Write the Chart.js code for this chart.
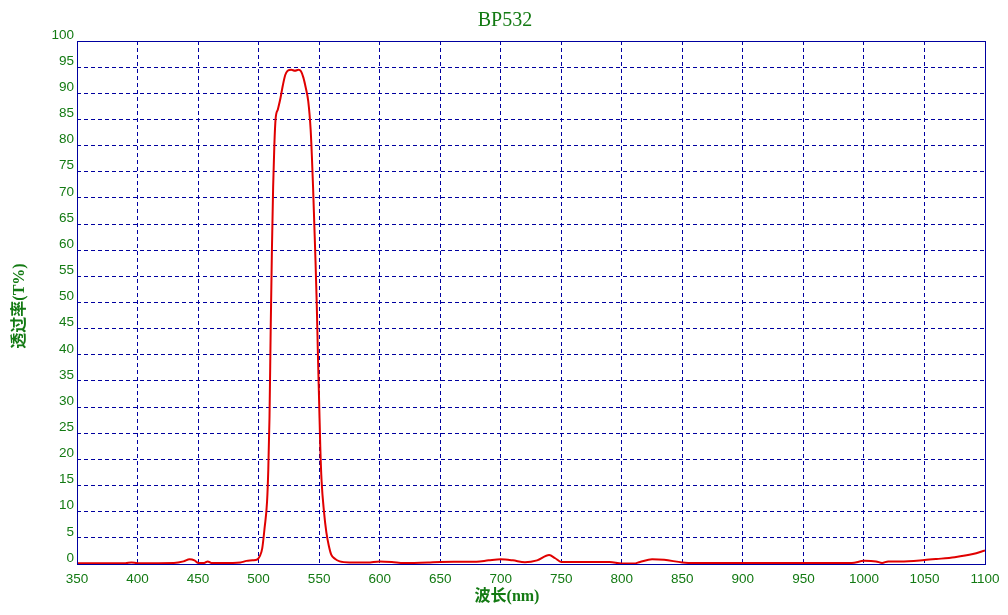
<!DOCTYPE html>
<html>
<head>
<meta charset="utf-8">
<script src="https://cdn.jsdelivr.net/npm/chart.js@4/dist/chart.umd.min.js"></script>
<style>
	html, body { margin:0; padding:0; background:#fff; }
	#wrap { width:1008px; height:615px; position:relative; }
</style>
</head>
<body>
<div id="wrap"><canvas id="bpChart" width="1008" height="615"></canvas></div>
<script>

// wavelength (nm) / transmission (T%)
var wavelength = [350, 380, 390, 395, 400, 430, 438, 443, 447, 450, 455, 458, 461, 470, 485, 490, 495, 499,
	501, 503, 505, 507, 508, 509, 510, 511, 512, 513, 514, 516, 518, 520, 522, 524, 527, 530, 533, 535, 537,
	539, 541, 543, 544, 545, 546, 547, 548, 549, 550, 551, 552, 554, 556, 558, 560, 563, 567, 575, 590, 600,
	610, 620, 640, 650, 680, 690, 700, 710, 720, 730, 740, 745, 750, 760, 790, 800, 810, 815, 825, 835, 850,
	860, 900, 950, 990, 1000, 1010, 1015, 1020, 1030, 1050, 1060, 1075, 1090, 1100];
var transmission = [0.15, 0.15, 0.15, 0.3, 0.15, 0.2, 0.5, 0.9, 0.7, 0.2, 0.2, 0.5, 0.2, 0.2, 0.3, 0.6, 0.7, 0.9,
	1.5, 3, 7, 12, 18, 28, 45, 60, 72, 80, 85, 87, 89, 91.5, 93.5, 94.3, 94.5, 94.3, 94.5, 94.2, 93,
	91, 88.5, 83, 78, 72, 65, 58, 50, 40, 31, 22, 16, 10, 6, 3.5, 1.8, 1, 0.5, 0.3, 0.3, 0.5,
	0.4, 0.2, 0.3, 0.4, 0.45, 0.7, 0.9, 0.7, 0.35, 0.7, 1.7, 1.1, 0.4, 0.4, 0.4, 0.1, 0.1, 0.4, 0.9, 0.8, 0.3,
	0.2, 0.2, 0.2, 0.2, 0.6, 0.5, 0.2, 0.5, 0.5, 0.75, 0.95, 1.3, 1.9, 2.6];

var xTicks = [350, 400, 450, 500, 550, 600, 650, 700, 750, 800, 850, 900, 950, 1000, 1050, 1100];
var yTicks = [0, 5, 10, 15, 20, 25, 30, 35, 40, 45, 50, 55, 60, 65, 70, 75, 80, 85, 90, 95, 100];

var chartTitle 	= 'BP532',
	xTitle 		= '波长(nm)',
	yTitle 		= '透过率(T%)';

var green = '#137a13',
	blue  = '#0000a0';

var points = [];
for (var i = 0; i < wavelength.length; i++) {
	points.push({x: wavelength[i], y: transmission[i]});
}

// frame + titles, drawn by hand so they sit where the old plot has them
var framePlugin = {
	id: 'frame',
	afterDraw: function(chart) {
		var ctx = chart.ctx,
			a 	= chart.chartArea;

		ctx.save();
		ctx.strokeStyle = blue;
		ctx.lineWidth = 1;
		ctx.strokeRect(Math.round(a.left) + 0.5, Math.round(a.top) + 0.5, Math.round(a.right - a.left), Math.round(a.bottom - a.top));

		ctx.fillStyle = green;
		ctx.textAlign = 'center';
		ctx.textBaseline = 'middle';

		ctx.font = '20px "Liberation Serif", serif';
		ctx.fillText(chartTitle, 505, 21);

		ctx.font = 'bold 16px "Liberation Serif", "Noto Sans CJK SC", serif';
		ctx.fillText(xTitle, 507, 597);

		ctx.translate(20, 306);
		ctx.rotate(-Math.PI / 2);
		ctx.fillText(yTitle, 0, 0);
		ctx.restore();
	}
};

var ctx = document.getElementById('bpChart').getContext('2d');
var bpChart = new Chart(ctx, {
	type: 'line',
	data: {
		datasets: [{
			data: points,
			borderColor: '#e00000',
			borderWidth: 2,
			pointRadius: 0,
			fill: false,
			cubicInterpolationMode: 'monotone'
		}]
	},
	options: {
		responsive: false,
		animation: false,
		layout: { padding: { left: 0, right: 23, top: 41, bottom: 0 } },
		plugins: {
			legend: { display: false },
			tooltip: { enabled: false }
		},
		scales: {
			x: {
				type: 'linear',
				min: 350,
				max: 1100,
				afterBuildTicks: function(scale) {
					scale.ticks = xTicks.map(function(v){ return {value: v}; });
				},
				afterFit: function(scale) { scale.height = 51; },
				grid: { color: blue, lineWidth: 1, drawTicks: false },
				border: { display: false, dash: [4, 3] },
				ticks: {
					color: green,
					font: { family: '"Liberation Sans", sans-serif', size: 13.5 },
					padding: 7,
					maxRotation: 0,
					callback: function(v) { return String(v); }
				}
			},
			y: {
				min: 0,
				max: 100,
				afterBuildTicks: function(scale) {
					scale.ticks = yTicks.map(function(v){ return {value: v}; });
				},
				afterFit: function(scale) { scale.width = 77; },
				grid: { color: blue, lineWidth: 1, drawTicks: false },
				border: { display: false, dash: [4, 3] },
				ticks: {
					color: green,
					font: { family: '"Liberation Sans", sans-serif', size: 13.5 },
					padding: 3,
					labelOffset: -6,
					callback: function(v) { return String(v); }
				}
			}
		}
	},
	plugins: [framePlugin]
});

</script>
</body>
</html>
